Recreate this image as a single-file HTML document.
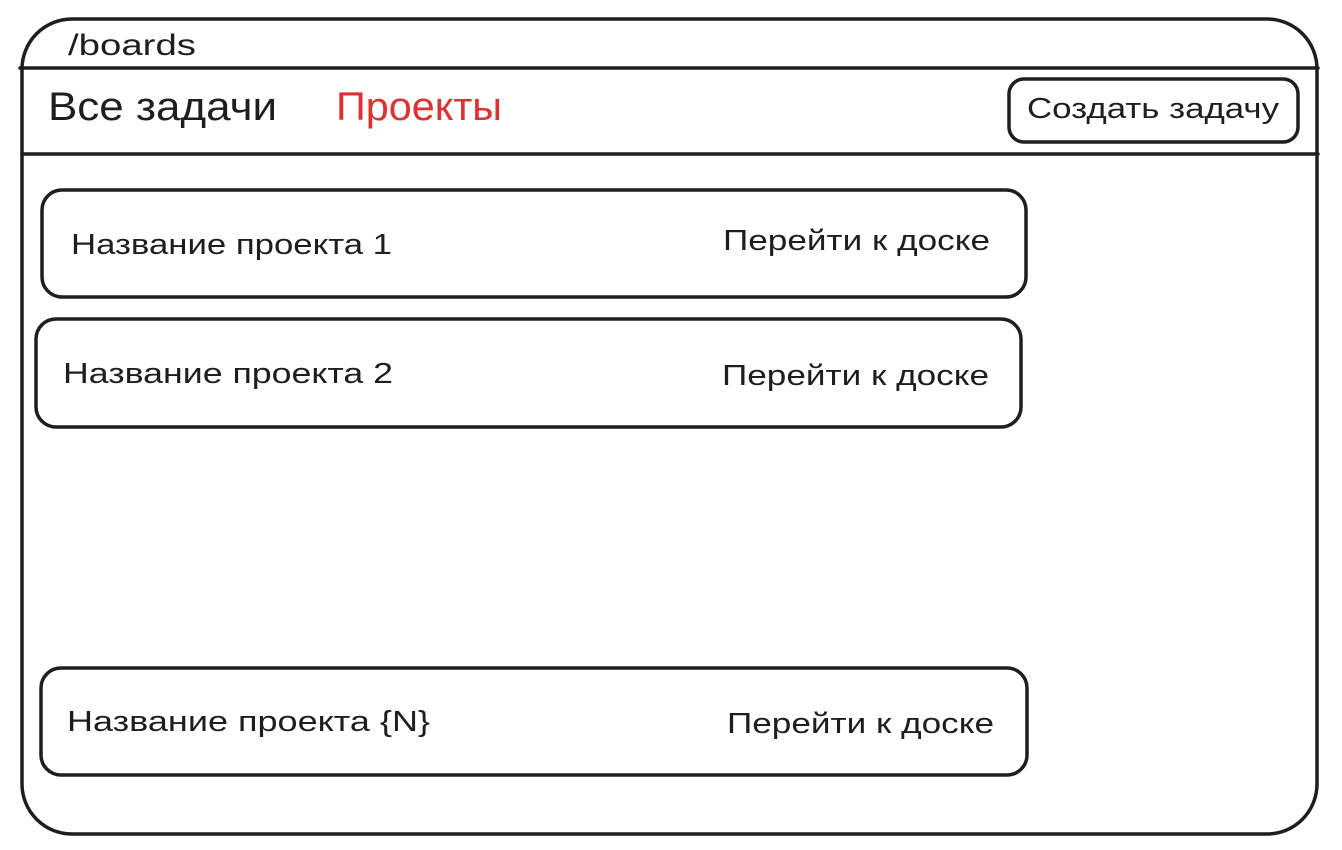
<!DOCTYPE html>
<html><head><meta charset="utf-8"><style>
html,body{margin:0;padding:0;background:#fff;}
svg{display:block}
text{font-family:"Liberation Sans","DejaVu Sans",sans-serif;fill:#1e1e1e;}
</style></head><body>
<svg width="1342" height="850" viewBox="0 0 1342 850" xmlns="http://www.w3.org/2000/svg">
<g fill="none" stroke="#1e1e1e" stroke-width="3.5" stroke-linecap="round">
<rect x="22" y="19" width="1295" height="815" rx="50"/>
<line x1="20" y1="68" x2="1318" y2="68"/>
<line x1="22" y1="154" x2="1318" y2="154"/>
<rect x="1009" y="79" width="289" height="63" rx="15"/>
<rect x="42" y="190" width="984" height="107" rx="20"/>
<rect x="36" y="319" width="985" height="108" rx="20"/>
<rect x="41" y="668" width="986" height="107" rx="20"/>
</g>
<text x="68" y="55" font-size="30" textLength="128" lengthAdjust="spacingAndGlyphs">/boards</text>
<text x="48" y="120" font-size="40" textLength="229" lengthAdjust="spacingAndGlyphs">Все задачи</text>
<text x="336" y="120" font-size="40" style="fill:#e03131" textLength="166" lengthAdjust="spacingAndGlyphs">Проекты</text>
<text x="1027" y="118" font-size="29" textLength="252" lengthAdjust="spacingAndGlyphs">Создать задачу</text>
<text x="71" y="254" font-size="29" textLength="321" lengthAdjust="spacingAndGlyphs">Название проекта 1</text>
<text x="723" y="250" font-size="29" textLength="267" lengthAdjust="spacingAndGlyphs">Перейти к доске</text>
<text x="63" y="383" font-size="29" textLength="330" lengthAdjust="spacingAndGlyphs">Название проекта 2</text>
<text x="722" y="385" font-size="29" textLength="267" lengthAdjust="spacingAndGlyphs">Перейти к доске</text>
<text x="67" y="731" font-size="29" textLength="363" lengthAdjust="spacingAndGlyphs">Название проекта {N}</text>
<text x="727" y="733" font-size="29" textLength="267" lengthAdjust="spacingAndGlyphs">Перейти к доске</text>
</svg>
</body></html>
